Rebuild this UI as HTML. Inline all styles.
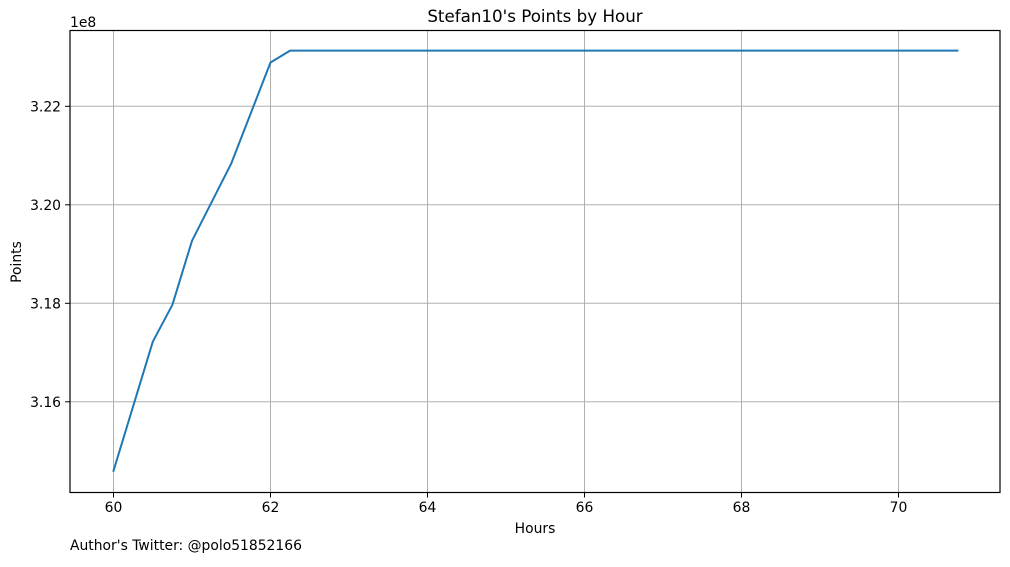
<!DOCTYPE html>
<html><head><meta charset="utf-8"><style>
body{margin:0;background:#fff;}
svg text{font-family:"DejaVu Sans","Liberation Sans",sans-serif;fill:#000;}
</style></head><body>
<svg width="1010" height="562" viewBox="0 0 1010 562">
<rect width="1010" height="562" fill="#fff"/>
<g id="grid"></g>
<g id="ticks"></g>
<path id="line" fill="none" stroke="#1f77b4" stroke-width="2" stroke-linejoin="round" stroke-linecap="square"/>
<rect x="70" y="30.5" width="930" height="462" fill="none" stroke="#000" stroke-width="1.2"/>
<text x="535" y="22" font-size="16.7" text-anchor="middle">Stefan10's Points by Hour</text>
<text x="70" y="27" font-size="13.9">1e8</text>
<text x="535" y="533" font-size="13.9" text-anchor="middle">Hours</text>
<text transform="translate(21,262) rotate(-90)" font-size="13.9" text-anchor="middle">Points</text>
<text x="70" y="550" font-size="13.9">Author's Twitter: @polo51852166</text>
</svg>
<script>
const hours=[60,60.5,60.75,61,61.5,62,62.25,70.75];
const points=[3.1460,3.1722,3.1797,3.1927,3.2084,3.2289,3.2313,3.2313];
const xTicks=[60,62,64,66,68,70];
const yTicks=[3.16,3.18,3.20,3.22];
const yTickLabels=["3.16","3.18","3.20","3.22"];
const X=v=>113.5+(v-60)*78.5;
const Y=v=>106.3+(3.22-v)/0.02*98.5;
const NS="http://www.w3.org/2000/svg";
const grid=document.getElementById('grid'),ticks=document.getElementById('ticks');
function mk(tag,attrs,parent){const e=document.createElementNS(NS,tag);for(const k in attrs)e.setAttribute(k,attrs[k]);parent.appendChild(e);return e;}
xTicks.forEach(t=>{const x=X(t);
 const g=mk('line',{x1:x,x2:x,y1:30.5,y2:492.5,stroke:'#b0b0b0','stroke-width':1},grid);
 
 
 const m=mk('line',{x1:x,x2:x,y1:492.5,y2:497.5,stroke:'#000','stroke-width':1},ticks);
 
 
 const l=mk('text',{x:x,y:512,'font-size':13.9,'text-anchor':'middle'},ticks);l.textContent=String(t);
 
 
});
yTicks.forEach((t,i)=>{const y=Y(t);
 const g=mk('line',{x1:70,x2:1000,y1:y,y2:y,stroke:'#b0b0b0','stroke-width':1},grid);
 
 
 const m=mk('line',{x1:65,x2:70,y1:y,y2:y,stroke:'#000','stroke-width':1},ticks);
 
 
 const l=mk('text',{x:61,y:y+5,'font-size':13.9,'text-anchor':'end'},ticks);l.textContent=yTickLabels[i];
 
 
});
document.getElementById('line').setAttribute('d',hours.map((h,i)=>(i?'L':'M')+X(h).toFixed(1)+','+Y(points[i]).toFixed(1)).join(''));
</script>
</body></html>
